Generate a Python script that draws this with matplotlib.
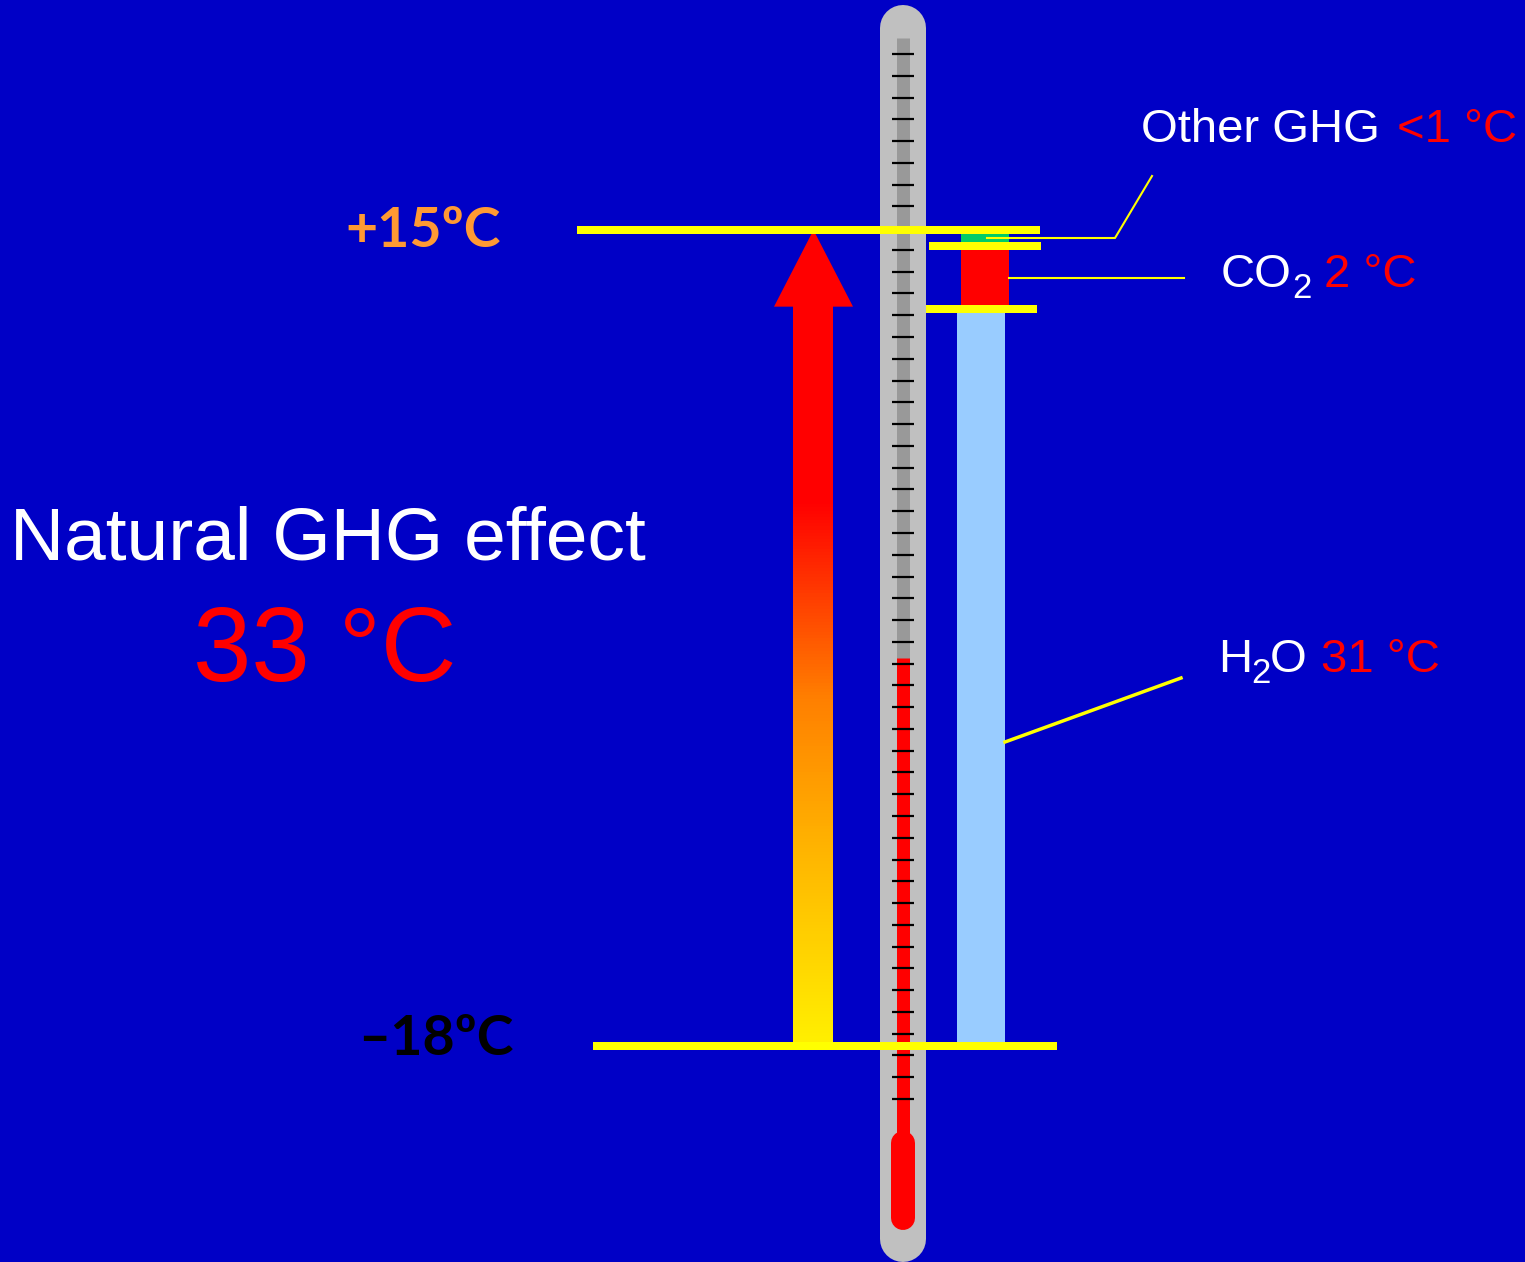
#natural greenhouse effect - thermometer sketch

import numpy as np
import matplotlib
import matplotlib.pyplot as plt
from matplotlib.patches import Polygon
from matplotlib.colors import LinearSegmentedColormap

# temperatures
t_cold = -18.0   # no greenhouse gases
t_warm = 15.0    # with greenhouse gases
gas_names = ['H2O', 'CO2', 'Other GHG']
gas_text_values = ['31 °C', '2 °C', '<1 °C']
gas_tops = [11.8, 14.35, 15.0]   # where each stacked segment ends (as drawn)
gas_colors = ['#99CCFF', '#FF0000', '#00CC66']
thermo_reading_px = 658          # mercury top of the decorative thermometer

W, H = 1525, 1262
bg = '#0000C6'
yellow = '#FFFF00'

# pixel <-> degree mapping of the slide
px_cold, px_warm = 1046, 230
px_per_deg = (px_cold - px_warm) / (t_warm - t_cold)
def to_deg(px):
    return t_cold + (px_cold - px) / px_per_deg

fig = plt.figure(figsize=(W / 100, H / 100), dpi=100)
fig.patch.set_facecolor(bg)

# background layer: the thermometer (pixel coords)
ax_bg = fig.add_axes([0, 0, 1, 1], zorder=0)
ax_bg.set_xlim(0, W)
ax_bg.set_ylim(H, 0)
ax_bg.set_facecolor(bg)
ax_bg.axis('off')

tx = 903
ax_bg.plot([tx, tx], [28, 1239], color='#C0C0C0', lw=46 * 0.72, solid_capstyle='round')
ax_bg.plot([tx, tx], [38, 1140], color='#999999', lw=13 * 0.72, solid_capstyle='butt')
ax_bg.plot([tx, tx], [thermo_reading_px, 1140], color='#FF0000', lw=13 * 0.72, solid_capstyle='butt')
ax_bg.plot([tx, tx], [1143, 1218], color='#FF0000', lw=24 * 0.72, solid_capstyle='round')
for ty in np.linspace(54, 1099, 49):
    ax_bg.plot([892, 914], [ty, ty], color='black', lw=1.6, solid_capstyle='butt')

# data layer: degrees on y
ax = fig.add_axes([0, 0, 1, 1], zorder=1)
ax.patch.set_alpha(0)
ax.axis('off')

# stacked contributions
bottoms = [t_cold] + gas_tops[:-1]
bar_x = [981, 985, 985]
for name, b, top, c, x in zip(gas_names, bottoms, gas_tops, gas_colors, bar_x):
    ax.bar(x, top - b, bottom=b, width=48, color=c, zorder=2)

# gradient arrow from -18 to +15
head_base = 11.9
verts = [(793, t_cold), (833, t_cold), (833, head_base), (853, head_base),
         (813.5, t_warm), (774, head_base), (793, head_base)]
poly = Polygon(verts, closed=True, facecolor='none', edgecolor='none')
ax.add_patch(poly)
stops = [(-18, '#FFF000'), (-10, '#FFB400'), (-4, '#FF8000'), (4, '#FF0000'), (15, '#FF0000')]
cmap = LinearSegmentedColormap.from_list(
    'arrow', [((t - t_cold) / (t_warm - t_cold), c) for t, c in stops])
grad = np.linspace(0, 1, 256).reshape(-1, 1)
im = ax.imshow(grad, extent=[774, 853, t_cold, t_warm], origin='lower',
               aspect='auto', cmap=cmap, zorder=2)
im.set_clip_path(poly)

# yellow level lines
lw_lvl = 8 * 0.72
ax.plot([577, 1040], [t_warm, t_warm], color=yellow, lw=lw_lvl, solid_capstyle='butt', zorder=3)
ax.plot([593, 1057], [t_cold, t_cold], color=yellow, lw=lw_lvl, solid_capstyle='butt', zorder=3)
ax.plot([929, 1041], [gas_tops[1], gas_tops[1]], color=yellow, lw=lw_lvl, solid_capstyle='butt', zorder=3)
ax.plot([926, 1037], [gas_tops[0], gas_tops[0]], color=yellow, lw=lw_lvl, solid_capstyle='butt', zorder=3)

ax.set_xlim(0, W)
ax.set_ylim(to_deg(H), to_deg(0))

# top layer: labels and leaders (pixel coords)
ax_top = fig.add_axes([0, 0, 1, 1], zorder=2)
ax_top.patch.set_alpha(0)
ax_top.set_xlim(0, W)
ax_top.set_ylim(H, 0)
ax_top.axis('off')

ax_top.plot([987, 1115, 1152], [238, 238, 176], color=yellow, lw=1.5)
ax_top.plot([1009, 1184], [278, 278], color=yellow, lw=1.5)
ax_top.plot([1005, 1181], [742, 678], color=yellow, lw=2.5)

bold = dict(family='Lato', weight='bold', size=40, va='baseline', ha='left')
ax_top.text(345, 247, '+15ºC', color='#FF9933', **bold)
ax_top.text(358, 1055, '–18ºC', color='black', **bold)

arial = dict(family='Liberation Sans', va='baseline', ha='left')
ax_top.text(10, 560, 'Natural GHG effect', color='white', size=54, **arial)
ax_top.text(193, 681, '33 °C', color='#FF0000', size=75.5, **arial)

s = 34
ax_top.text(1141, 142, 'Other GHG', color='white', size=s, **arial)
ax_top.text(1397, 142, gas_text_values[2], color='#FF0000', size=s, **arial)

ax_top.text(1221, 287, 'CO', color='white', size=s, **arial)
ax_top.text(1292, 298, '2', color='white', size=25, **arial)
ax_top.text(1324, 287, gas_text_values[1], color='#FF0000', size=s, **arial)

ax_top.text(1218, 672, 'H', color='white', size=s, **arial)
ax_top.text(1251, 683, '2', color='white', size=25, **arial)
ax_top.text(1270, 672, 'O', color='white', size=s, **arial)
ax_top.text(1321, 672, gas_text_values[0], color='#FF0000', size=s, **arial)

fig.savefig('out.png', dpi=100, facecolor=bg)
